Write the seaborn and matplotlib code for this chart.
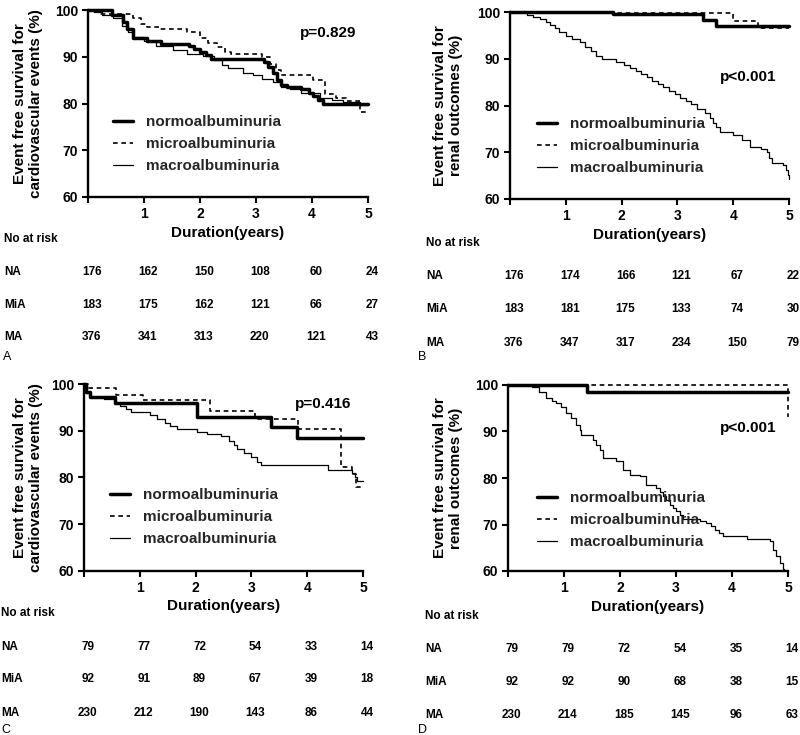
import matplotlib
matplotlib.use("Agg")
import matplotlib.pyplot as plt
import matplotlib.transforms as mtransforms
import seaborn as sns

# ---------------- data ----------------
group_names = ["normoalbuminuria", "microalbuminuria", "macroalbuminuria"]
row_labels = ["NA", "MiA", "MA"]
risk_times = [0, 1, 2, 3, 4, 5]
x_ticks = [0, 1, 2, 3, 4, 5]
x_tick_labels = ["", "1", "2", "3", "4", "5"]
y_ticks = [60, 70, 80, 90, 100]
y_tick_labels = ["60", "70", "80", "90", "100"]
x_label = "Duration(years)"
risk_header = "No at risk"
ylabel_cv = "Event free survival for\ncardiovascular events (%)"
ylabel_renal = "Event free survival for\nrenal outcomes (%)"
panel_letters = ["A", "B", "C", "D"]
p_values = ["p=0.829", "p<0.001", "p=0.416", "p<0.001"]

# Panel A (cardiovascular events)
A_normo_t = [0, 0.42, 0.62, 0.7, 0.8, 1.05, 1.3, 1.8, 1.9, 2.0, 2.1, 2.2, 3.15, 3.22, 3.3, 3.38, 3.45, 3.55, 3.8, 3.95, 4.02, 4.1, 4.2, 5.0]
A_normo_s = [100, 99.0, 97.5, 96.0, 94.0, 93.3, 92.8, 92.3, 91.6, 91.0, 90.4, 89.6, 88.9, 87.9, 86.5, 85.0, 84.0, 83.5, 83.0, 82.3, 81.5, 80.8, 79.8, 79.8]
A_micro_t = [0, 0.2, 0.8, 0.95, 1.05, 1.28, 1.76, 2.0, 2.15, 2.3, 2.45, 2.55, 3.1, 3.25, 3.35, 3.45, 4.02, 4.23, 4.43, 4.6, 4.85, 5.0]
A_micro_s = [100, 99.1, 98.2, 97.1, 96.4, 95.9, 95.2, 94.0, 93.0, 92.0, 91.0, 90.6, 90.0, 88.5, 87.2, 86.1, 85.0, 82.1, 81.1, 80.6, 78.2, 78.2]
A_macro_t = [0, 0.1, 0.25, 0.45, 0.6, 0.72, 0.8, 1.0, 1.22, 1.52, 1.76, 2.05, 2.25, 2.4, 2.5, 2.77, 2.95, 3.1, 3.3, 3.45, 3.6, 3.8, 4.15, 4.35, 4.55, 4.85, 5.0]
A_macro_s = [100, 99.5, 98.9, 98.3, 96.5, 95.2, 94.2, 93.3, 92.3, 91.5, 90.6, 90.2, 89.2, 88.2, 87.5, 86.6, 86.0, 85.3, 84.5, 83.6, 83.0, 82.3, 81.2, 80.8, 80.4, 79.6, 79.6]
A_risk_na = [176, 162, 150, 108, 60, 24]
A_risk_mia = [183, 175, 162, 121, 66, 27]
A_risk_ma = [376, 341, 313, 220, 121, 43]

# Panel B (renal outcomes)
B_normo_t = [0, 1.85, 3.45, 3.7, 5.0]
B_normo_s = [100, 99.5, 98.2, 97.1, 97.1]
B_micro_t = [0, 1.85, 4.0, 4.45, 5.0]
B_micro_s = [100, 99.8, 98.0, 96.6, 96.6]
B_macro_t = [0, 0.3, 0.42, 0.54, 0.65, 0.72, 0.8, 0.88, 1.0, 1.12, 1.25, 1.35, 1.45, 1.55, 1.65, 1.9, 2.05, 2.15, 2.25, 2.35, 2.45, 2.55, 2.65, 2.75, 2.85, 2.95, 3.05, 3.15, 3.25, 3.35, 3.5, 3.58, 3.64, 3.7, 3.76, 4.0, 4.15, 4.3, 4.5, 4.6, 4.65, 4.7, 4.9, 4.95, 4.98, 5.0]
B_macro_s = [100, 99.4, 98.9, 98.4, 97.8, 97.2, 96.5, 95.8, 94.9, 94.3, 93.6, 92.6, 91.6, 90.6, 89.9, 89.2, 88.6, 88.0, 87.4, 86.8, 86.0, 85.2, 84.5, 84.0, 83.2, 82.5, 81.7, 81.0, 80.4, 79.3, 78.3, 77.3, 76.3, 75.3, 74.3, 73.6, 72.6, 71.2, 70.8, 70.0, 68.8, 67.8, 67.2, 66.2, 65.2, 64.3]
B_risk_na = [176, 174, 166, 121, 67, 22]
B_risk_mia = [183, 181, 175, 133, 74, 30]
B_risk_ma = [376, 347, 317, 234, 150, 79]

# Panel C (cardiovascular events)
C_normo_t = [0, 0.03, 0.1, 0.55, 2.02, 3.35, 3.82, 5.0]
C_normo_s = [100, 98.2, 97.2, 95.9, 93.0, 90.8, 88.4, 88.4]
C_micro_t = [0, 0.08, 0.57, 1.06, 2.26, 3.07, 3.84, 4.6, 4.8, 4.88, 5.0]
C_micro_s = [100, 99.1, 97.7, 96.6, 94.2, 92.6, 90.3, 82.3, 80.8, 78.0, 78.0]
C_macro_t = [0, 0.03, 0.1, 0.35, 0.55, 0.65, 0.75, 0.85, 1.18, 1.3, 1.45, 1.55, 1.66, 2.02, 2.2, 2.45, 2.6, 2.68, 2.75, 2.87, 2.99, 3.1, 3.17, 4.37, 4.8, 4.85, 4.9, 5.0]
C_macro_s = [100, 98.0, 97.2, 96.8, 96.0, 95.4, 94.6, 94.1, 93.3, 92.6, 91.7, 91.0, 90.3, 89.8, 89.3, 88.8, 87.8, 87.0, 86.2, 85.2, 84.3, 83.4, 82.6, 81.6, 81.0, 80.0, 79.3, 79.3]
C_risk_na = [79, 77, 72, 54, 33, 14]
C_risk_mia = [92, 91, 89, 67, 39, 18]
C_risk_ma = [230, 212, 190, 143, 86, 44]

# Panel D (renal outcomes)
D_normo_t = [0, 1.41, 5.0]
D_normo_s = [100, 98.5, 98.5]
D_micro_t = [0, 5.0]
D_micro_s = [100, 93.2]
D_macro_t = [0, 0.42, 0.55, 0.68, 0.78, 0.86, 0.95, 1.04, 1.13, 1.22, 1.28, 1.31, 1.52, 1.58, 1.64, 1.7, 1.93, 2.05, 2.17, 2.35, 2.47, 2.65, 2.72, 2.77, 2.83, 2.89, 2.95, 3.0, 3.07, 3.13, 3.42, 3.54, 3.62, 3.69, 3.77, 3.84, 4.26, 4.67, 4.73, 4.79, 4.85, 4.91, 4.93]
D_macro_s = [100, 99.6, 98.5, 97.1, 96.6, 96.1, 95.3, 93.9, 92.8, 91.4, 90.4, 89.3, 88.2, 87.2, 86.1, 84.3, 83.6, 81.8, 80.7, 80.4, 78.6, 77.9, 77.0, 76.1, 75.2, 74.3, 73.6, 72.9, 72.0, 71.1, 70.7, 70.4, 69.7, 68.9, 68.2, 67.5, 66.8, 66.4, 64.6, 63.2, 61.8, 60.5, 60.5]
D_risk_na = [79, 79, 72, 54, 35, 14]
D_risk_mia = [92, 92, 90, 68, 38, 15]
D_risk_ma = [230, 214, 185, 145, 96, 63]

# ---------------- style ----------------
sns.set_theme(style="ticks")
plt.rcParams["font.family"] = ["Liberation Sans", "DejaVu Sans"]
plt.rcParams["font.weight"] = "bold"
plt.rcParams["axes.labelweight"] = "bold"

W, H = 800, 735
fig = plt.figure(figsize=(W / 100, H / 100), dpi=100)

line_styles = [
    dict(linewidth=2.5, linestyle="-"),
    dict(linewidth=1.2, linestyle=(0, (2.8, 2.2))),
    dict(linewidth=0.9, linestyle="-"),
]

# layout per panel (pixel positions)
panels = [
    dict(box=(88, 10, 368, 197), curves=[(A_normo_t, A_normo_s), (A_micro_t, A_micro_s), (A_macro_t, A_macro_s)],
         risks=[A_risk_na, A_risk_mia, A_risk_ma], ylabel=ylabel_cv, ylab_x=28, xlab_y=233,
         p_xy=(328, 33), leg=(113, 144), head=(4, 239), rows=(272, 305, 337), letter_xy=(3, 357)),
    dict(box=(510, 12, 789, 199), curves=[(B_normo_t, B_normo_s), (B_micro_t, B_micro_s), (B_macro_t, B_macro_s)],
         risks=[B_risk_na, B_risk_mia, B_risk_ma], ylabel=ylabel_renal, ylab_x=448, xlab_y=235,
         p_xy=(748, 77), leg=(537, 146), head=(426, 243), rows=(276, 309, 343), letter_xy=(418, 357)),
    dict(box=(84, 384, 363, 571), curves=[(C_normo_t, C_normo_s), (C_micro_t, C_micro_s), (C_macro_t, C_macro_s)],
         risks=[C_risk_na, C_risk_mia, C_risk_ma], ylabel=ylabel_cv, ylab_x=28, xlab_y=606,
         p_xy=(323, 404), leg=(110, 517), head=(1, 613), rows=(647, 679, 713), letter_xy=(1, 730)),
    dict(box=(508, 385, 788, 571), curves=[(D_normo_t, D_normo_s), (D_micro_t, D_micro_s), (D_macro_t, D_macro_s)],
         risks=[D_risk_na, D_risk_mia, D_risk_ma], ylabel=ylabel_renal, ylab_x=448, xlab_y=607,
         p_xy=(748, 428), leg=(537, 520), head=(425, 616), rows=(649, 682, 715), letter_xy=(418, 730)),
]

for i, p in enumerate(panels):
    l, t, r, b = p["box"]
    w, h = r - l, b - t
    ax = fig.add_axes([l / W, 1 - b / H, w / W, h / H])

    def ax_frac(x, y):
        return (x - l) / w, (b - y) / h

    for (tt, ss), name, st in zip(p["curves"], group_names, line_styles):
        sns.lineplot(x=tt, y=ss, ax=ax, drawstyle="steps-post", estimator=None, sort=False,
                     color="black", label=name, clip_on=False, **st)

    ax.set_xlim(0, 5)
    ax.set_ylim(60, 100)
    ax.set_xticks(x_ticks)
    ax.set_xticklabels(x_tick_labels)
    ax.set_yticks(y_ticks)
    ax.set_yticklabels(y_tick_labels)
    ax.tick_params(axis="both", direction="out", length=4.5, width=1.5, color="black",
                   labelsize=10, pad=2.5, labelcolor="black")
    for lab in ax.get_xticklabels() + ax.get_yticklabels():
        lab.set_fontweight("bold")
    sns.despine(ax=ax)
    for sp in ("left", "bottom"):
        ax.spines[sp].set_linewidth(1.7)
        ax.spines[sp].set_color("black")
    ax.set_facecolor("white")

    ax.set_xlabel(x_label, fontsize=11, fontweight="bold", va="center", color="black")
    ax.xaxis.set_label_coords(0.5, ax_frac(0, p["xlab_y"])[1])
    ax.set_ylabel(p["ylabel"], fontsize=11, fontweight="bold", va="center", ha="center",
                  color="black", linespacing=1.2)
    ax.yaxis.set_label_coords(ax_frac(p["ylab_x"], 0)[0], 0.5)

    px, py = ax_frac(*p["p_xy"])
    ax.text(px, py, p_values[i], transform=ax.transAxes, ha="center", va="center",
            fontsize=11, fontweight="bold", color="black")

    lx, ly = ax_frac(*p["leg"])
    ax.legend(loc="center left", bbox_to_anchor=(lx, ly), frameon=False,
              prop=dict(size=11, weight="bold"), handlelength=1.3, handletextpad=0.85,
              labelspacing=0.52, borderpad=0, borderaxespad=0)

    # number at risk table
    hx, hy = p["head"]
    fig.text(hx / W, 1 - hy / H, risk_header, ha="left", va="center", fontsize=8.5,
             fontweight="bold", color="black")
    trans = mtransforms.blended_transform_factory(ax.transData, fig.transFigure)
    for lab, ry, vals in zip(row_labels, p["rows"], p["risks"]):
        fig.text(hx / W, 1 - ry / H, lab, ha="left", va="center", fontsize=8.5,
                 fontweight="bold", color="black")
        for tx, v in zip(risk_times, vals):
            ax.text(tx + 0.07, 1 - ry / H, str(v), transform=trans, ha="center", va="center",
                    fontsize=8.5, fontweight="bold", color="black", clip_on=False)
    fx, fy = p["letter_xy"]
    fig.text(fx / W, 1 - fy / H, panel_letters[i], ha="left", va="center", fontsize=9,
             fontweight="normal", color="black")

fig.savefig("out.png", dpi=100, facecolor="white")
